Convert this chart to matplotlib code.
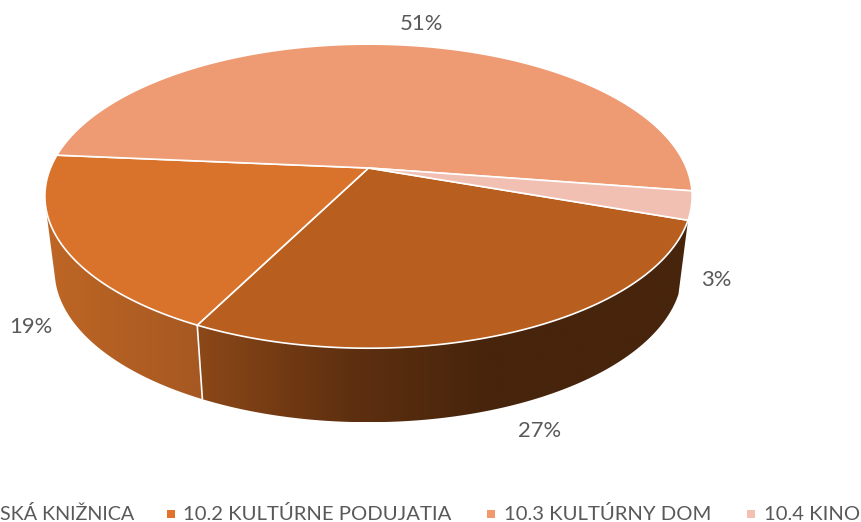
import numpy as np
import matplotlib
matplotlib.use("Agg")
import matplotlib.pyplot as plt
from matplotlib.colors import LinearSegmentedColormap
from matplotlib.patches import Polygon, Rectangle

categories = ["SKÁ KNIŽNICA", "10.2 KULTÚRNE PODUJATIA", "10.3 KULTÚRNY DOM", "10.4 KINO"]
values = [27, 19, 51, 3]
percent_labels = ["27%", "19%", "51%", "3%"]
top_colors = ["#B85F1F", "#D9732B", "#EE9A72", "#F2C0B2"]
legend_colors = ["#B85F1F", "#E0722C", "#F09A6E", "#F4C0B0"]

plt.rcParams["font.family"] = ["Lato", "DejaVu Sans"]
TEXT = "#595959"

fig = plt.figure(figsize=(8.61, 5.22), dpi=100)
ax = fig.add_axes([0, 0, 1, 1])
ax.set_xlim(0, 861)
ax.set_ylim(522, 0)
ax.axis("off")

CX, CY, A, H, K = 368.5, 168.0, 318.0, 146.8, 0.1854
S, D = 0.97, 74.0
START = -19.5
SILHOUETTE = -165.0  # where the side wall leaves the rim on the left

def top(theta):
    t = np.radians(theta)
    u, v = np.cos(t), np.sin(t)
    w = 1 + K * v
    return CX + A * u / w, CY - H * v / w

def bottom(theta):
    x, y = top(theta)
    return CX + S * (x - CX), y + D

def arc(f, a, b, n=160):
    x, y = f(np.linspace(a, b, n))
    return np.column_stack([x, y])

edges = START - np.concatenate([[0], np.cumsum(values)]) * 3.6

side_ramps = [
    [(0.0, "#8A4718"), (0.50, "#5F3010"), (1.0, "#47240C")],
    [(0.0, "#BE6625"), (1.0, "#A65822")],
]
side_spans = [(204, 490), (45, 204)]
for i in range(2):
    a, b = edges[i], max(edges[i + 1], SILHOUETTE)
    poly = np.vstack([arc(top, a, b), arc(bottom, a, b)[::-1]])
    x0, x1 = side_spans[i]
    cmap = LinearSegmentedColormap.from_list(f"side{i}", side_ramps[i])
    xmin, xmax = poly[:, 0].min(), poly[:, 0].max()
    g = np.clip((np.linspace(xmin, xmax, 600) - x0) / (x1 - x0), 0, 1)
    im = ax.imshow(g[None, :], cmap=cmap, vmin=0, vmax=1, aspect="auto",
                   extent=(xmin, xmax, poly[:, 1].max(), poly[:, 1].min()), zorder=1)
    im.set_clip_path(Polygon(poly, closed=True, transform=ax.transData))
ax.set_xlim(0, 861)
ax.set_ylim(522, 0)

# seam between the two visible side faces
sx, sy = top(edges[1])
bx, by = bottom(edges[1])
ax.plot([sx, bx], [sy, by], color="white", lw=1.2, zorder=2, solid_capstyle="butt")

for i, color in enumerate(top_colors):
    pts = np.vstack([[CX, CY], arc(top, edges[i], edges[i + 1])])
    ax.add_patch(Polygon(pts, closed=True, facecolor=color, edgecolor="white",
                         lw=1.2, joinstyle="round", zorder=3))

label_pos = [(540, 431), (31, 327), (421, 24), (716, 280)]
for (x, y), s in zip(label_pos, percent_labels):
    ax.text(x, y, s, ha="center", va="center", fontsize=15.8, color=TEXT, zorder=4)

ax.text(134, 514, categories[0], ha="right", va="center", fontsize=14.2, color=TEXT)
marker_x = [167, 487, 747]
text_x = [183, 504, 764]
for name, color, mx, tx in zip(categories[1:], legend_colors[1:], marker_x, text_x):
    ax.add_patch(Rectangle((mx, 510), 8, 8, facecolor=color, edgecolor="none"))
    ax.text(tx, 514, name, ha="left", va="center", fontsize=14.6, color=TEXT)

fig.savefig("out.png", dpi=100)
